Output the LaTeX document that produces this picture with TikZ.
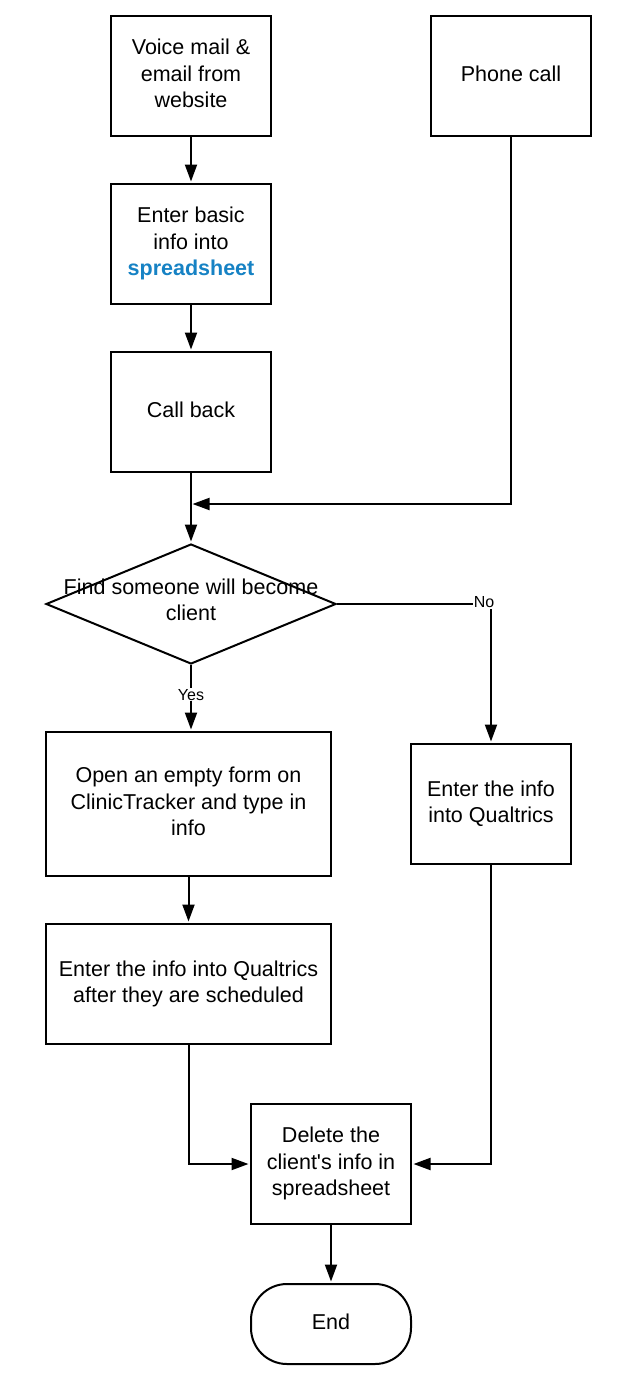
\documentclass[tikz,border=0pt]{standalone}
\usepackage{fontspec}
\setmainfont{Liberation Sans}
\usetikzlibrary{shapes.geometric,arrows.meta}
\definecolor{linkblue}{RGB}{22,130,196}
\newcommand{\mlines}[1]{\raisebox{2pt}{\begin{tabular}{@{}c@{}}#1\end{tabular}}}
\tikzset{
  every picture/.style={x=1pt,y=-1pt},
  box/.style={draw,line width=2pt,minimum width=160pt,minimum height=120pt,inner sep=0pt,align=center,font=\fontsize{21.5}{26.5}\selectfont},
  widebox/.style={box,minimum width=285pt},
  dia/.style={draw,diamond,line width=2pt,minimum width=290pt,minimum height=120pt,inner sep=0pt},
  txt/.style={align=center,font=\fontsize{21.5}{26.5}\selectfont,inner sep=0pt},
  term/.style={box,minimum height=80pt,rounded corners=36pt},
  arr/.style={line width=2pt,-{Triangle[length=17pt,width=12pt]},shorten >=1.5pt},
  lbl/.style={fill=white,inner sep=1pt,font=\fontsize{16}{18}\selectfont},
}
\begin{document}
\begin{tikzpicture}
\useasboundingbox (0,0) rectangle (631,1373);
\node[box] (vm) at (191,76) {\mlines{Voice mail \&\\email from\\website}};
\node[box] (phone) at (511,76) {\mlines{Phone call}};
\node[box] (basic) at (191,244) {\mlines{Enter basic\\info into\\\textcolor{linkblue}{\textbf{spreadsheet}}}};
\node[box] (cb) at (191,412) {\mlines{Call back}};
\coordinate (m) at (191,504);
\node[dia] (d) at (191,604) {};
\node[txt] (dt) at (191,600) {Find someone will become\\client};
\node[widebox,minimum height=144pt] (of) at (188.5,804) {\mlines{Open an empty form on\\ClinicTracker and type in\\info}};
\node[box] (q) at (491,804) {\mlines{Enter the info\\into Qualtrics}};
\node[widebox] (as) at (188.5,984) {\mlines{Enter the info into Qualtrics\\after they are scheduled}};
\node[box] (del) at (331,1164) {\mlines{Delete the\\client\textquotesingle s info in\\spreadsheet}};
\node[term] (end) at (331,1324) {\mlines{End}};

\draw[arr] (vm) -- (basic);
\draw[arr] (basic) -- (cb);
\draw[arr] (cb) -- (d.north);
\draw[arr] (phone.south) |- (m);
\draw[arr] (d.east) -| node[lbl,pos=0.5,xshift=-7pt,yshift=2pt] (no) {No} (q.north);
\draw[arr] (d.south) -- node[lbl,pos=0.45] (yes) {Yes} (d.south |- of.north);
\draw[arr] (of) -- (as);
\draw[arr] (as.south) |- (del.west);
\draw[arr] (q.south) |- (del.east);
\draw[arr] (del) -- (end);
\end{tikzpicture}
\end{document}
